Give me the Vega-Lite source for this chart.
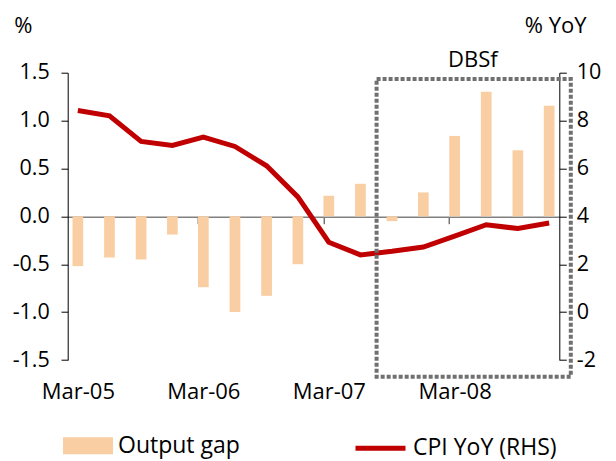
{
  "$schema": "https://vega.github.io/schema/vega-lite/v6.json",
  "width": 491.6,
  "height": 287.3,
  "autosize": {"type": "none"},
  "padding": {"left": 67.7, "top": 72.7, "right": 56.7, "bottom": 101},
  "config": {
    "font": "Open Sans",
    "view": {"stroke": null},
    "axis": {"grid": false, "labelFont": "Open Sans", "titleFont": "Open Sans", "labelColor": "#000", "titleColor": "#000", "domainColor": "#000", "tickColor": "#000"},
    "legend": {"labelFont": "Open Sans", "labelColor": "#000", "labelLimit": 400}
  },
  "data": {
    "values": [
      {"date": "2005-03-15", "gap": -0.52, "cpi": 8.42},
      {"date": "2005-06-15", "gap": -0.43, "cpi": 8.20},
      {"date": "2005-09-15", "gap": -0.45, "cpi": 7.13},
      {"date": "2005-12-15", "gap": -0.19, "cpi": 6.96},
      {"date": "2006-03-15", "gap": -0.74, "cpi": 7.31},
      {"date": "2006-06-15", "gap": -1.00, "cpi": 6.92},
      {"date": "2006-09-15", "gap": -0.83, "cpi": 6.11},
      {"date": "2006-12-15", "gap": -0.50, "cpi": 4.81},
      {"date": "2007-03-15", "gap": 0.215, "cpi": 2.92},
      {"date": "2007-06-15", "gap": 0.34, "cpi": 2.39},
      {"date": "2007-09-15", "gap": -0.05, "cpi": 2.54},
      {"date": "2007-12-15", "gap": 0.25, "cpi": 2.72},
      {"date": "2008-03-15", "gap": 0.84, "cpi": 3.17},
      {"date": "2008-06-15", "gap": 1.30, "cpi": 3.65},
      {"date": "2008-09-15", "gap": 0.69, "cpi": 3.49},
      {"date": "2008-12-15", "gap": 1.155, "cpi": 3.72}
    ]
  },
  "layer": [
    {
      "mark": {"type": "bar", "width": 10.7},
      "encoding": {
        "x": {
          "field": "date", "type": "temporal",
          "scale": {"type": "utc", "domain": [{"year": 2005, "month": 2, "date": 28, "utc": true}, {"year": 2008, "month": 12, "date": 30, "utc": true}], "nice": false},
          "axis": {
            "orient": "bottom", "title": null, "domain": false, "ticks": false, "tickSize": 0,
            "values": [{"year": 2005, "month": 3, "date": 15, "utc": true}, {"year": 2006, "month": 3, "date": 15, "utc": true}, {"year": 2007, "month": 3, "date": 15, "utc": true}, {"year": 2008, "month": 3, "date": 15, "utc": true}],
            "labelExpr": "utcFormat(datum.value, '%b-%y')",
            "labelFontSize": 22, "labelPadding": 21, "labelAlign": "center", "labelOverlap": false
          }
        },
        "y": {
          "field": "gap", "type": "quantitative",
          "scale": {"domain": [-1.5, 1.5], "nice": false, "zero": false},
          "axis": {
            "orient": "left", "values": [-1.5, -1, -0.5, 0, 0.5, 1, 1.5],
            "labelExpr": "(datum.value < 0 ? '-' : '') + format(abs(datum.value), '.1f')",
            "labelFontSize": 21.5, "tickSize": 6.7, "labelPadding": 11.7, "domainWidth": 1, "tickWidth": 1,
            "title": "%", "titleAngle": 0, "titleAlign": "left", "titleBaseline": "alphabetic", "titleX": -54, "titleY": -39.7, "titleFontSize": 22, "titleFontWeight": "normal"
          }
        },
        "fill": {
          "datum": "Output gap", "type": "nominal",
          "scale": {"range": ["#F9CEA3"]},
          "legend": {"orient": "none", "legendX": -4.7, "legendY": 348, "title": null, "padding": 0,
            "symbolType": "M-1,-0.34H1V0.34H-1Z", "symbolSize": 2500, "symbolStrokeWidth": 0,
            "labelFontSize": 23, "labelOffset": 5}
        }
      }
    },
    {
      "mark": {"type": "line", "strokeWidth": 5},
      "encoding": {
        "x": {
          "field": "date", "type": "temporal",
          "axis": {
            "orient": "bottom", "offset": -143.3, "title": null, "labels": false,
            "domainColor": "#808080", "domainWidth": 1.5, "tickColor": "#333", "tickSize": 7, "tickWidth": 1,
            "values": [{"year": 2006, "month": 2, "date": 28, "utc": true}, {"year": 2007, "month": 2, "date": 28, "utc": true}, {"year": 2008, "month": 2, "date": 28, "utc": true}]
          }
        },
        "y": {
          "field": "cpi", "type": "quantitative",
          "scale": {"domain": [-2, 10], "nice": false, "zero": false},
          "axis": {
            "orient": "right", "values": [-2, 0, 2, 4, 6, 8, 10],
            "labelExpr": "(datum.value < 0 ? '-' : '') + format(abs(datum.value), 'd')",
            "labelFontSize": 21.5, "tickSize": 7, "labelPadding": 10, "domainWidth": 1, "tickWidth": 1,
            "title": "% YoY", "titleAngle": 0, "titleAlign": "left", "titleBaseline": "alphabetic", "titleX": -35, "titleY": -39.7, "titleFontSize": 22, "titleFontWeight": "normal"
          }
        },
        "stroke": {
          "datum": "CPI YoY (RHS)", "type": "nominal",
          "scale": {"range": ["#C00000"]},
          "legend": {"orient": "none", "legendX": 285.3, "legendY": 348, "title": null, "padding": 0,
            "symbolType": "stroke", "symbolSize": 2500, "symbolStrokeWidth": 5,
            "labelFontSize": 23, "labelOffset": 5}
        }
      }
    },
    {
      "data": {"values": [{"label": "DBSf"}]},
      "layer": [
        {
          "mark": {"type": "rect", "fill": "transparent", "stroke": "#707070", "strokeWidth": 4, "strokeDash": [4, 2]},
          "encoding": {
            "x": {"datum": {"year": 2007, "month": 8, "date": 1, "utc": true}, "type": "temporal", "axis": null},
            "x2": {"datum": {"year": 2009, "month": 2, "date": 16, "utc": true}},
            "y": {"datum": 1.434, "type": "quantitative", "scale": {"domain": [-1.5, 1.5], "nice": false, "zero": false}, "axis": null},
            "y2": {"datum": -1.674}
          }
        },
        {
          "mark": {"type": "text", "fontSize": 22, "fontWeight": "normal", "font": "Open Sans", "align": "center", "baseline": "middle", "color": "#000"},
          "encoding": {
            "x": {"datum": {"year": 2008, "month": 5, "date": 7, "utc": true}, "type": "temporal", "axis": null},
            "y": {"datum": 1.632, "type": "quantitative", "axis": null},
            "text": {"field": "label"}
          }
        }
      ]
    }
  ],
  "resolve": {"scale": {"y": "independent"}, "axis": {"x": "independent"}}
}
